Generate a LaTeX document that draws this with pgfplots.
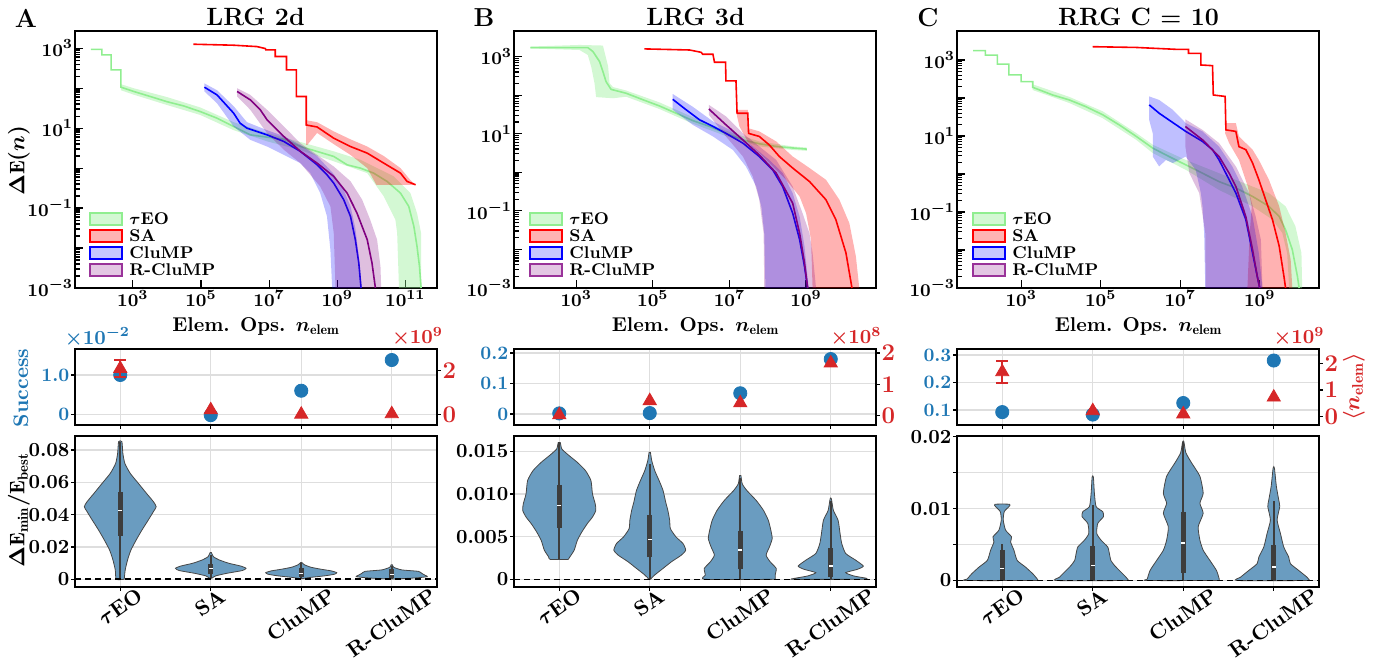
\documentclass[border=0pt]{standalone}
\usepackage{fontspec}
\usepackage{pgfplots}
\pgfplotsset{compat=1.18}
\newcommand{\fs}[1]{\fontsize{#1}{#1}\selectfont}
\definecolor{tabblue}{RGB}{31,119,180}
\definecolor{tabred}{RGB}{214,39,40}
\definecolor{lgreen}{RGB}{144,238,144}
\definecolor{mpurple}{RGB}{128,0,128}
\definecolor{vblue}{RGB}{106,156,192}
\definecolor{vedge}{RGB}{70,70,70}
\definecolor{boxc}{RGB}{61,61,61}
\definecolor{gridc}{RGB}{222,222,222}
\pgfplotsset{every axis/.append style={scale only axis, anchor=north west, axis line style={line width=0.8pt, black}, tick style={black, line width=0.6pt}, tick label style={font=\fs{9.5}\bfseries\boldmath, inner sep=0.8pt}, scaled y ticks=false}}
\newcommand{\vbx}[6]{%
\addplot[boxc, line width=0.9pt, forget plot] coordinates {(#1,#2) (#1,#3)};
\addplot[boxc, line width=2.6pt, forget plot] coordinates {(#1,#4) (#1,#5)};
\addplot[only marks, mark=-, mark size=1.1pt, white, mark options={line width=0.7pt}, forget plot] coordinates {(#1,#6)};
}
\newcommand{\zeroline}{\addplot[black, line width=0.8pt, dash pattern=on 3pt off 2pt, forget plot] coordinates {(-0.5,0) (3.5,0)};}
\begin{document}
\begin{tikzpicture}
\useasboundingbox (0,0) rectangle (692.5pt,-331pt);
% ================= TOP A =================
\begin{axis}[at={(37.5pt,-15.5pt)}, width=181pt, height=128.5pt, xmode=log, ymode=log, xmin=2.0e1, xmax=8.5e11, ymin=1e-3, ymax=2.7e3, tick align=inside, tick pos=left, xtick={1e3,1e5,1e7,1e9,1e11}, ytick={1e-3,1e-2,1e-1,1,1e1,1e2,1e3}, yticklabels={$10^{-3}$,,$10^{-1}$,,$10^{1}$,,$10^{3}$}, major tick length=4pt, minor tick length=2.5pt]
\addplot[draw=none, fill=lgreen, fill opacity=0.4] coordinates {(4.44e2,1.26e2) (1.05e3,1.0e2) (1e4,6.0e1) (9.5e4,3.3e1) (9.1e5,1.41e1) (8.7e6,7.6) (8.3e7,4.5) (7.9e8,2.63) (4.8e9,1.62) (4.6e10,0.62) (1.41e11,0.237) (2.2e11,0.075) (2.9e11,0.0237) (2.9e11,0.001) (6.5e10,0.001) (5.75e10,0.0237) (5.1e10,0.051) (2.34e10,0.195) (7.6e9,0.75) (7.9e8,1.48) (8.3e7,2.82) (8.7e6,4.68) (9.1e5,8.9) (9.5e4,2.14e1) (1e4,3.8e1) (1.05e3,6.9e1) (4.44e2,8.9e1)};
\addplot[lgreen, line width=0.8pt] coordinates {(5.8e1,9.4e2) (1.23e2,9.4e2) (1.23e2,6.8e2) (2.31e2,6.8e2) (2.31e2,2.87e2) (4.44e2,2.87e2) (4.44e2,1.06e2) (1.05e3,8.3e1) (3.24e3,6.2e1) (1e4,4.6e1) (3.1e4,3.6e1) (9.5e4,2.6e1) (2.95e5,1.78e1) (9.1e5,1.1e1) (2.8e6,6.8) (8.7e6,5.96) (2.7e7,5.3) (8.3e7,3.48) (2.57e8,2.61) (7.9e8,1.96) (1.95e9,1.21) (4.8e9,1.0) (1.17e10,0.75) (2.9e10,0.465) (7.2e10,0.237) (1.26e11,0.11) (1.78e11,0.0348) (2.2e11,0.011) (2.6e11,0.00348) (2.9e11,0.001)};
\addplot[draw=none, fill=red, fill opacity=0.3] coordinates {(1.23e8,1.58e1) (2.57e8,1.41e1) (7.9e8,8.3) (2.45e9,5.25) (7.6e9,3.47) (2.34e10,2.0) (7.2e10,1.0) (1.41e11,0.5) (2.0e11,0.38) (1.41e10,0.38) (7.6e9,1.0) (2.45e9,2.14) (7.9e8,3.98) (2.57e8,7.6) (1.32e8,3.8) (1.23e8,3.8)};
\addplot[red, line width=0.8pt] coordinates {(6.0e4,1.26e3) (9.1e5,1.19e3) (4.4e6,1.1e3) (7.8e6,9.8e2) (8.0e6,9.1e2) (1.51e7,9.1e2) (1.51e7,6.2e2) (3.24e7,6.2e2) (3.24e7,2.88e2) (6.3e7,2.88e2) (6.3e7,6.2e1) (1.23e8,6.2e1) (1.23e8,1.2e1) (2.57e8,1.07e1) (7.9e8,5.6) (2.45e9,3.47) (7.6e9,2.37) (2.34e10,1.33) (7.2e10,0.75) (1.12e11,0.465) (2.0e11,0.383)};
\addplot[draw=none, fill=blue, fill opacity=0.25] coordinates {(1.26e5,1.32e2) (2.95e5,8.9e1) (9.1e5,3.55e1) (2.24e6,1.41e1) (8.7e6,8.9) (2.7e7,6.3) (8.3e7,3.8) (2.57e8,2.0) (7.9e8,0.71) (1.55e9,0.28) (2.45e9,0.112) (3.4e9,0.0316) (4.3e9,0.0063) (5.25e9,0.001) (7.1e8,0.001) (6.3e8,0.0091) (5.0e8,0.062) (3.16e8,0.237) (1.62e8,0.75) (8.3e7,1.33) (2.7e7,2.15) (8.7e6,3.47) (2.8e6,5.1) (9.1e5,1.1e1) (2.95e5,4.2e1) (1.26e5,8.3e1)};
\addplot[blue, line width=0.8pt] coordinates {(1.26e5,1.06e2) (2.95e5,6.8e1) (9.1e5,2.37e1) (1.41e6,1.33e1) (2.24e6,1.0e1) (8.7e6,6.8) (2.7e7,4.65) (8.3e7,2.61) (2.57e8,1.21) (5.0e8,0.68) (7.9e8,0.42) (1.55e9,0.162) (2.45e9,0.062) (3.4e9,0.0162) (4.3e9,0.0042) (5.0e9,0.001)};
\addplot[draw=none, fill=mpurple, fill opacity=0.25] coordinates {(1.15e6,1.0e2) (2.8e6,6.8e1) (8.7e6,2.88e1) (2.7e7,1.1e1) (8.3e7,4.2) (2.57e8,2.14) (7.9e8,1.1) (2.45e9,0.47) (5.4e9,0.162) (9.3e9,0.051) (1.48e10,0.0162) (1.86e10,0.0035) (1.95e10,0.001) (8.9e8,0.001) (7.9e8,0.0237) (6.3e8,0.11) (3.16e8,0.347) (8.3e7,1.33) (2.7e7,2.88) (8.7e6,7.5) (2.8e6,2.88e1) (1.15e6,6.2e1)};
\addplot[mpurple, line width=0.8pt] coordinates {(1.15e6,8.3e1) (2.8e6,5.1e1) (5.5e6,2.88e1) (8.7e6,1.62e1) (2.7e7,6.2) (8.3e7,2.63) (2.57e8,1.33) (7.9e8,0.62) (1.95e9,0.237) (3.8e9,0.075) (7.6e9,0.0162) (1.05e10,0.0042) (1.32e10,0.001)};
\end{axis}
% ================= TOP B =================
\begin{axis}[at={(257pt,-15.5pt)}, width=181pt, height=128.5pt, xmode=log, ymode=log, xmin=2.37e1, xmax=6.7e10, ymin=1e-3, ymax=4.6e3, tick align=inside, tick pos=left, xtick={1e3,1e5,1e7,1e9}, ytick={1e-3,1e-2,1e-1,1,1e1,1e2,1e3}, yticklabels={$10^{-3}$,,$10^{-1}$,,$10^{1}$,,$10^{3}$}, major tick length=4pt, minor tick length=2.5pt]
\addplot[draw=none, fill=lgreen, fill opacity=0.4] coordinates {(6.3e1,1.82e3) (1.22e3,2.0e3) (4.97e3,1.93e3) (6.8e3,5.5e2) (7.4e3,2.04e2) (9.1e3,1.62e2) (2.0e4,1.32e2) (1.48e5,6.5e1) (1.1e6,2.69e1) (8.1e6,1.2e1) (6.0e7,6.3) (4.47e8,4.68) (1.05e9,4.37) (1.05e9,3.6) (4.47e8,3.8) (6.0e7,4.68) (8.1e6,8.7) (1.1e6,1.82e1) (1.48e5,4.37e1) (2.0e4,9.1e1) (9.1e3,8.3e1) (3.3e3,8.9e1) (3.0e3,2.04e2) (2.45e3,5.5e2) (2.0e3,1.1e3) (1.22e3,1.48e3) (6.3e1,1.62e3)};
\addplot[lgreen, line width=0.8pt] coordinates {(6.3e1,1.71e3) (2.0e3,1.71e3) (2.72e3,1.35e3) (4.07e3,7.4e2) (4.97e3,4.07e2) (6.0e3,2.24e2) (8.1e3,1.41e2) (2.0e4,1.12e2) (5.5e4,7.6e1) (1.48e5,5.25e1) (4.07e5,3.39e1) (1.1e6,2.19e1) (3.0e6,1.55e1) (8.1e6,1.02e1) (2.24e7,6.9) (6.0e7,5.5) (1.66e8,4.68) (4.47e8,4.27) (1.05e9,3.98)};
\addplot[draw=none, fill=red, fill opacity=0.3] coordinates {(1.58e7,4.17e1) (3.0e7,4.17e1) (3.16e7,1.38e1) (6.0e7,1.15e1) (1.66e8,6.3) (4.47e8,2.57) (1.23e9,1.29) (3.3e9,0.64) (7.4e9,0.195) (1.35e10,0.048) (2.0e10,0.0066) (2.45e10,0.001) (1.48e9,0.001) (1.35e9,0.0178) (1.0e9,0.087) (6.8e8,0.234) (3.0e8,0.64) (1.1e8,1.74) (6.0e7,3.16) (3.16e7,5.7) (1.82e7,1.55e1) (1.58e7,2.82e1)};
\addplot[red, line width=0.8pt] coordinates {(6.0e4,1.58e3) (9.1e5,1.48e3) (1.82e6,1.29e3) (2.0e6,1.15e3) (3.7e6,1.15e3) (4.07e6,7.1e2) (7.9e6,7.1e2) (8.1e6,2.34e2) (1.48e7,2.34e2) (1.58e7,3.39e1) (3.0e7,3.39e1) (3.16e7,1.02e1) (6.0e7,8.5) (1.1e8,5.1) (2.0e8,2.57) (4.47e8,1.29) (1.23e9,0.575) (3.3e9,0.195) (6.0e9,0.059) (1.1e10,0.0081) (1.58e10,0.001)};
\addplot[draw=none, fill=blue, fill opacity=0.25] coordinates {(3.3e5,1.07e2) (1.1e6,5.0e1) (3.7e6,2.09e1) (1.23e7,1.15e1) (4.07e7,4.68) (1.1e8,2.09) (2.45e8,0.955) (4.47e8,0.288) (6.8e8,0.071) (9.1e8,0.012) (1.17e9,0.001) (8.7e7,0.001) (8.1e7,0.026) (6.8e7,0.129) (5.0e7,0.427) (2.7e7,1.41) (1.23e7,3.8) (3.7e6,8.5) (1.1e6,1.7e1) (3.3e5,4.17e1)};
\addplot[blue, line width=0.8pt] coordinates {(3.3e5,7.8e1) (7.4e5,4.17e1) (1.66e6,2.29e1) (3.7e6,1.55e1) (8.1e6,1.02e1) (2.24e7,5.7) (6.0e7,2.57) (1.35e8,1.15) (2.45e8,0.427) (4.47e8,0.087) (6.8e8,0.0178) (9.1e8,0.0036) (1.1e9,0.001)};
\addplot[draw=none, fill=mpurple, fill opacity=0.25] coordinates {(2.9e6,5.6e1) (8.1e6,2.82e1) (2.24e7,1.02e1) (6.0e7,4.68) (1.66e8,2.09) (4.47e8,0.427) (8.1e8,0.087) (1.23e9,0.026) (1.48e9,0.0081) (1.82e9,0.001) (8.1e7,0.001) (7.8e7,0.026) (6.0e7,0.195) (4.07e7,0.78) (2.24e7,2.57) (8.1e6,8.5) (2.9e6,3.09e1)};
\addplot[mpurple, line width=0.8pt] coordinates {(2.9e6,4.37e1) (8.1e6,1.7e1) (2.24e7,6.9) (6.0e7,2.82) (1.66e8,0.955) (4.47e8,0.158) (6.8e8,0.026) (9.1e8,0.0045) (1.1e9,0.001)};
\end{axis}
% ================= TOP C =================
\begin{axis}[at={(478.5pt,-15.5pt)}, width=181pt, height=128.5pt, xmode=log, ymode=log, xmin=2.43e1, xmax=3.1e10, ymin=1e-3, ymax=5.8e3, tick align=inside, tick pos=left, xtick={1e3,1e5,1e7,1e9}, ytick={1e-3,1e-2,1e-1,1,1e1,1e2,1e3}, yticklabels={$10^{-3}$,,$10^{-1}$,,$10^{1}$,,$10^{3}$}, major tick length=4pt, minor tick length=2.5pt]
\addplot[draw=none, fill=lgreen, fill opacity=0.4] coordinates {(1.95e3,2.29e2) (1.62e4,1.07e2) (1.12e5,4.47e1) (7.8e5,1.2e1) (2.04e6,5.9) (1.38e7,2.34) (9.5e7,1.05) (6.6e8,0.468) (1.7e9,0.316) (4.47e9,0.141) (7.9e9,0.042) (1.12e10,0.0083) (1.17e10,0.001) (5.5e9,0.001) (4.9e9,0.0083) (3.7e9,0.028) (2.09e9,0.063) (6.6e8,0.141) (9.5e7,0.38) (1.38e7,1.29) (2.04e6,3.55) (7.8e5,7.94) (1.12e5,2.95e1) (1.62e4,7.4e1) (1.95e3,1.62e2)};
\addplot[lgreen, line width=0.8pt] coordinates {(6.2e1,1.76e3) (1.26e2,1.76e3) (1.26e2,1.35e3) (2.51e2,1.35e3) (2.51e2,7.8e2) (4.9e2,7.8e2) (4.9e2,4.07e2) (1e3,4.07e2) (1e3,2.69e2) (1.95e3,2.69e2) (1.95e3,1.91e2) (6.2e3,1.2e2) (1.62e4,8.9e1) (4.27e4,5.9e1) (1.12e5,3.63e1) (2.95e5,1.95e1) (7.8e5,9.8) (2.04e6,4.79) (5.25e6,2.88) (1.38e7,1.74) (3.63e7,1.05) (9.5e7,0.63) (2.51e8,0.427) (6.6e8,0.257) (1.7e9,0.141) (3.09e9,0.076) (4.47e9,0.034) (6.6e9,0.0102) (8.9e9,0.002) (9.8e9,0.001)};
\addplot[draw=none, fill=red, fill opacity=0.3] coordinates {(1.41e8,2.19e1) (2.51e8,2.19e1) (3.0e8,9.8) (6.6e8,4.37) (9.5e8,2.34) (1.7e9,0.71) (3.09e9,0.141) (4.47e9,0.028) (6.0e9,0.0056) (6.6e9,0.001) (4.9e8,0.001) (5.6e8,0.028) (6.3e8,0.141) (5.0e8,0.468) (3.0e8,2.34) (1.7e8,6.5) (1.35e8,1.17e1)};
\addplot[red, line width=0.8pt] coordinates {(6.3e4,2.24e3) (7.8e5,2.14e3) (7.8e6,1.91e3) (1.62e7,1.91e3) (1.62e7,1.5e3) (3.3e7,1.5e3) (3.3e7,7.4e2) (6.5e7,7.1e2) (6.8e7,1.2e2) (1.35e8,1.1e2) (1.41e8,1.45e1) (2.51e8,1.32e1) (3.0e8,5.25) (4.47e8,4.37) (6.6e8,1.95) (9.5e8,0.71) (1.41e9,0.209) (2.09e9,0.063) (3.09e9,0.0126) (4.07e9,0.002) (4.47e9,0.001)};
\addplot[draw=none, fill=blue, fill opacity=0.25] coordinates {(1.66e6,1.1e2) (2.95e6,8.9e1) (6.5e6,4.9e1) (1.38e7,2.19e1) (3.63e7,1.32e1) (9.5e7,5.25) (2.04e8,1.58) (3.63e8,0.468) (6.6e8,0.076) (9.5e8,0.0083) (1.17e9,0.001) (4.27e7,0.001) (4.0e7,0.028) (3.63e7,0.141) (3.3e7,0.316) (2.45e7,1.29) (1.38e7,2.88) (9.3e6,2.34) (6.5e6,1.95) (4.37e6,2.34) (2.95e6,1.58) (2.04e6,2.88) (2.04e6,1.17e1) (1.66e6,2.63e1)};
\addplot[blue, line width=0.8pt] coordinates {(1.66e6,6.6e1) (2.95e6,3.98e1) (5.25e6,2.63e1) (1.38e7,1.32e1) (3.63e7,7.2) (6.5e7,4.37) (9.5e7,2.34) (1.7e8,0.71) (2.51e8,0.316) (4.47e8,0.063) (6.6e8,0.0083) (8.7e8,0.002) (1.0e9,0.001)};
\addplot[draw=none, fill=mpurple, fill opacity=0.25] coordinates {(1.35e7,2.75e1) (3.63e7,1.45e1) (9.5e7,6.5) (2.51e8,1.58) (5.4e8,0.316) (7.9e8,0.076) (1.07e9,0.0186) (1.17e9,0.001) (4.37e7,0.001) (4.27e7,0.028) (3.0e7,0.316) (1.7e7,1.05) (1.35e7,5.25)};
\addplot[mpurple, line width=0.8pt] coordinates {(1.35e7,1.78e1) (3.63e7,7.94) (9.5e7,2.88) (1.7e8,1.05) (2.51e8,0.468) (4.47e8,0.076) (6.6e8,0.0102) (8.7e8,0.002) (1.0e9,0.001)};
\end{axis}
% ================= MIDDLE =================
\begin{axis}[at={(37.5pt,-174.5pt)}, width=181pt, height=38pt, xmin=-0.5, xmax=3.5, xtick={0,1,2,3}, xticklabels={}, tick align=outside, major tick length=1.8pt, ytick pos=left, xtick pos=left, grid=major, grid style={gridc, line width=0.6pt}, yticklabel style={text=tabblue}, ymin=-0.27, ymax=1.66, ytick={0,1}, yticklabels={0,1.0}]
\addplot[only marks, mark=*, mark size=3.3pt, tabblue] coordinates {(0,1.0) (1,-0.02) (2,0.6) (3,1.38)};
\end{axis}
\begin{axis}[at={(37.5pt,-174.5pt)}, width=181pt, height=38pt, xmin=-0.5, xmax=3.5, axis y line*=right, axis x line=none, tick align=outside, major tick length=1.8pt, yticklabel style={text=tabred, font=\fs{12.5}\bfseries\boldmath}, ymin=-0.49, ymax=3.0, ytick={0,2}]
\addplot[only marks, mark=triangle*, mark size=3.8pt, tabred, error bars/.cd, y dir=both, y explicit, error bar style={tabred, line width=0.9pt}, error mark options={tabred, rotate=90, mark size=3pt, line width=0.9pt}] coordinates {(0,2.1) +- (0,0.4)};
\addplot[only marks, mark=triangle*, mark size=3.8pt, tabred] coordinates {(1,0.2) (2,0.0) (3,0.02)};
\end{axis}
\begin{axis}[at={(257pt,-174.5pt)}, width=181pt, height=38pt, xmin=-0.5, xmax=3.5, xtick={0,1,2,3}, xticklabels={}, tick align=outside, major tick length=1.8pt, ytick pos=left, xtick pos=left, grid=major, grid style={gridc, line width=0.6pt}, yticklabel style={text=tabblue}, ymin=-0.036, ymax=0.213, ytick={0,0.1,0.2}, yticklabels={0,0.1,0.2}]
\addplot[only marks, mark=*, mark size=3.3pt, tabblue] coordinates {(0,0.002) (1,0.003) (2,0.068) (3,0.18)};
\end{axis}
\begin{axis}[at={(257pt,-174.5pt)}, width=181pt, height=38pt, xmin=-0.5, xmax=3.5, axis y line*=right, axis x line=none, tick align=outside, major tick length=1.8pt, yticklabel style={text=tabred, font=\fs{12.5}\bfseries\boldmath}, ymin=-0.29, ymax=2.13, ytick={0,1,2}]
\addplot[only marks, mark=triangle*, mark size=3.8pt, tabred] coordinates {(0,0.03) (1,0.48) (2,0.41) (3,1.68)};
\end{axis}
\begin{axis}[at={(478.5pt,-174.5pt)}, width=181pt, height=38pt, xmin=-0.5, xmax=3.5, xtick={0,1,2,3}, xticklabels={}, tick align=outside, major tick length=1.8pt, ytick pos=left, xtick pos=left, grid=major, grid style={gridc, line width=0.6pt}, yticklabel style={text=tabblue}, ymin=0.045, ymax=0.322, ytick={0.1,0.2,0.3}, yticklabels={0.1,0.2,0.3}]
\addplot[only marks, mark=*, mark size=3.3pt, tabblue] coordinates {(0,0.092) (1,0.083) (2,0.125) (3,0.28)};
\end{axis}
\begin{axis}[at={(478.5pt,-174.5pt)}, width=181pt, height=38pt, xmin=-0.5, xmax=3.5, axis y line*=right, axis x line=none, tick align=outside, major tick length=1.8pt, yticklabel style={text=tabred, font=\fs{12.5}\bfseries\boldmath}, ymin=-0.31, ymax=2.54, ytick={0,1,2}]
\addplot[only marks, mark=triangle*, mark size=3.8pt, tabred, error bars/.cd, y dir=both, y explicit, error bar style={tabred, line width=0.9pt}, error mark options={tabred, rotate=90, mark size=3pt, line width=0.9pt}] coordinates {(0,1.68) +- (0,0.41)};
\addplot[only marks, mark=triangle*, mark size=3.8pt, tabred] coordinates {(1,0.22) (2,0.1) (3,0.73)};
\end{axis}
% ================= VIOLINS A =================
\begin{axis}[at={(37.5pt,-218pt)}, width=181pt, height=75.5pt, xmin=-0.5, xmax=3.5, xtick={0,1,2,3}, xticklabels={}, tick align=outside, tick pos=left, major tick length=1.8pt, grid=major, grid style={gridc, line width=0.6pt}, yticklabel style={font=\fs{10}\bfseries}, ymin=-0.0048, ymax=0.0887, ytick={0,0.02,0.04,0.06,0.08}, yticklabels={0,0.02,0.04,0.06,0.08}]
\addplot[fill=vblue, draw=vedge, line width=0.4pt, smooth, tension=0.35] coordinates {(0.044,0) (0.055,0.0058) (0.081,0.012) (0.118,0.0181) (0.176,0.0243) (0.24,0.0305) (0.31,0.0367) (0.367,0.0419) (0.397,0.0449) (0.367,0.048) (0.29,0.0532) (0.2,0.0594) (0.11,0.0656) (0.051,0.0717) (0.029,0.0779) (0.018,0.0852) (-0.018,0.0852) (-0.029,0.0779) (-0.051,0.0717) (-0.11,0.0656) (-0.2,0.0594) (-0.29,0.0532) (-0.367,0.048) (-0.397,0.0449) (-0.367,0.0419) (-0.31,0.0367) (-0.24,0.0305) (-0.176,0.0243) (-0.118,0.0181) (-0.081,0.012) (-0.055,0.0058) (-0.044,0) (0.044,0)};
\vbx{0}{0}{0.085}{0.0268}{0.0538}{0.0425}
\addplot[fill=vblue, draw=vedge, line width=0.4pt, smooth, tension=0.35] coordinates {(1.011,0.0006) (1.055,0.0021) (1.18,0.0037) (1.35,0.0054) (1.39,0.0068) (1.33,0.0082) (1.2,0.0099) (1.092,0.012) (1.029,0.014) (1.007,0.0165) (0.993,0.0165) (0.971,0.014) (0.908,0.012) (0.8,0.0099) (0.67,0.0082) (0.61,0.0068) (0.65,0.0054) (0.82,0.0037) (0.945,0.0021) (0.989,0.0006) (1.011,0.0006)};
\vbx{1}{0.0006}{0.015}{0.0033}{0.0095}{0.0068}
\addplot[fill=vblue, draw=vedge, line width=0.4pt, smooth, tension=0.35] coordinates {(2.011,0.0004) (2.11,0.0012) (2.257,0.0021) (2.367,0.0031) (2.393,0.0041) (2.33,0.0052) (2.22,0.0062) (2.11,0.0074) (2.037,0.0089) (2.007,0.0103) (1.993,0.0103) (1.963,0.0089) (1.89,0.0074) (1.78,0.0062) (1.67,0.0052) (1.607,0.0041) (1.633,0.0031) (1.743,0.0021) (1.89,0.0012) (1.989,0.0004) (2.011,0.0004)};
\vbx{2}{0.0004}{0.0098}{0.0016}{0.0068}{0.0037}
\addplot[fill=vblue, draw=vedge, line width=0.4pt, smooth, tension=0.35] coordinates {(3.037,0.0002) (3.257,0.0008) (3.393,0.0016) (3.367,0.0025) (3.33,0.0037) (3.294,0.0049) (3.11,0.0058) (3.022,0.0074) (3.007,0.0089) (2.993,0.0089) (2.978,0.0074) (2.89,0.0058) (2.706,0.0049) (2.67,0.0037) (2.633,0.0025) (2.607,0.0016) (2.743,0.0008) (2.963,0.0002) (3.037,0.0002)};
\vbx{3}{0.0002}{0.0085}{0.0006}{0.0062}{0.0031}
\zeroline
\end{axis}
% ================= VIOLINS B =================
\begin{axis}[at={(257pt,-218pt)}, width=181pt, height=75.5pt, xmin=-0.5, xmax=3.5, xtick={0,1,2,3}, xticklabels={}, tick align=outside, tick pos=left, major tick length=1.8pt, grid=major, grid style={gridc, line width=0.6pt}, yticklabel style={font=\fs{10}\bfseries}, ymin=-0.0009, ymax=0.0168, ytick={0,0.005,0.01,0.015}, yticklabels={0,0.005,0.010,0.015}]
\addplot[fill=vblue, draw=vedge, line width=0.4pt, smooth, tension=0.35] coordinates {(0.099,0.00233) (0.118,0.00264) (0.165,0.00342) (0.2,0.00458) (0.25,0.00556) (0.31,0.00653) (0.367,0.0073) (0.404,0.00808) (0.397,0.00886) (0.367,0.01002) (0.35,0.01158) (0.29,0.01274) (0.2,0.01371) (0.11,0.01449) (0.029,0.01527) (0.011,0.01604) (-0.011,0.01604) (-0.029,0.01527) (-0.11,0.01449) (-0.2,0.01371) (-0.29,0.01274) (-0.35,0.01158) (-0.367,0.01002) (-0.397,0.00886) (-0.404,0.00808) (-0.367,0.0073) (-0.31,0.00653) (-0.25,0.00556) (-0.2,0.00458) (-0.165,0.00342) (-0.118,0.00264) (-0.099,0.00233) (0.099,0.00233)};
\vbx{0}{0.00233}{0.01604}{0.00606}{0.01111}{0.00866}
\addplot[fill=vblue, draw=vedge, line width=0.4pt, smooth, tension=0.35] coordinates {(1.007,0) (1.055,0.00051) (1.147,0.00128) (1.24,0.00206) (1.35,0.00284) (1.397,0.00342) (1.367,0.0042) (1.29,0.00497) (1.228,0.00594) (1.22,0.00692) (1.2,0.00808) (1.176,0.00905) (1.147,0.01041) (1.103,0.01158) (1.055,0.01274) (1.022,0.01391) (1.007,0.01488) (0.993,0.01488) (0.978,0.01391) (0.945,0.01274) (0.897,0.01158) (0.853,0.01041) (0.824,0.00905) (0.8,0.00808) (0.78,0.00692) (0.772,0.00594) (0.71,0.00497) (0.633,0.0042) (0.603,0.00342) (0.65,0.00284) (0.76,0.00206) (0.853,0.00128) (0.945,0.00051) (0.993,0) (1.007,0)};
\vbx{1}{0}{0.0135}{0.00256}{0.0075}{0.00466}
\addplot[fill=vblue, draw=vedge, line width=0.4pt, smooth, tension=0.35] coordinates {(2.386,0) (2.386,0.00051) (2.397,0.00128) (2.33,0.00206) (2.286,0.00284) (2.323,0.00381) (2.353,0.00478) (2.338,0.00575) (2.31,0.00692) (2.257,0.00808) (2.176,0.00925) (2.073,0.01041) (2.022,0.01119) (2.007,0.01216) (1.993,0.01216) (1.978,0.01119) (1.927,0.01041) (1.824,0.00925) (1.743,0.00808) (1.69,0.00692) (1.662,0.00575) (1.647,0.00478) (1.677,0.00381) (1.714,0.00284) (1.67,0.00206) (1.603,0.00128) (1.614,0.00051) (1.614,0) (2.386,0)};
\vbx{2}{0}{0.0119}{0.00117}{0.00563}{0.00342}
\addplot[fill=vblue, draw=vedge, line width=0.4pt, smooth, tension=0.35] coordinates {(3.404,0) (3.397,0.00012) (3.257,0.00039) (3.165,0.00078) (3.294,0.00117) (3.36,0.00155) (3.275,0.00225) (3.165,0.00303) (3.121,0.0042) (3.103,0.00536) (3.081,0.00692) (3.029,0.00808) (3.007,0.00944) (2.993,0.00944) (2.971,0.00808) (2.919,0.00692) (2.897,0.00536) (2.879,0.0042) (2.835,0.00303) (2.725,0.00225) (2.64,0.00155) (2.706,0.00117) (2.835,0.00078) (2.743,0.00039) (2.603,0.00012) (2.596,0) (3.404,0)};
\vbx{3}{0}{0.0092}{0.00031}{0.00369}{0.00155}
\zeroline
\end{axis}
% ================= VIOLINS C =================
\begin{axis}[at={(478.5pt,-218pt)}, width=181pt, height=75.5pt, xmin=-0.5, xmax=3.5, xtick={0,1,2,3}, xticklabels={}, tick align=outside, tick pos=left, major tick length=1.8pt, grid=major, grid style={gridc, line width=0.6pt}, yticklabel style={font=\fs{10}\bfseries}, ymin=-0.0009, ymax=0.0201, ytick={0,0.005,0.01,0.015,0.02}, yticklabels={0,,0.01,,0.02}]
\addplot[fill=vblue, draw=vedge, line width=0.4pt, smooth, tension=0.35] coordinates {(0.397,0) (0.386,0.00023) (0.338,0.00093) (0.257,0.00187) (0.165,0.0028) (0.129,0.00421) (0.092,0.00537) (0.103,0.00607) (0.037,0.00701) (0.011,0.00841) (0.022,0.00958) (0.074,0.01028) (0.081,0.01061) (-0.081,0.01061) (-0.074,0.01028) (-0.022,0.00958) (-0.011,0.00841) (-0.037,0.00701) (-0.103,0.00607) (-0.092,0.00537) (-0.129,0.00421) (-0.165,0.0028) (-0.257,0.00187) (-0.338,0.00093) (-0.386,0.00023) (-0.397,0) (0.397,0)};
\vbx{0}{0}{0.00514}{0}{0.00421}{0.00164}
\addplot[fill=vblue, draw=vedge, line width=0.4pt, smooth, tension=0.35] coordinates {(1.397,0) (1.367,0.00047) (1.294,0.0014) (1.24,0.0021) (1.2,0.0028) (1.184,0.00374) (1.165,0.00467) (1.092,0.00561) (1.044,0.00654) (1.055,0.00794) (1.118,0.00888) (1.11,0.00958) (1.037,0.01028) (1.018,0.01215) (1.007,0.01439) (0.993,0.01439) (0.982,0.01215) (0.963,0.01028) (0.89,0.00958) (0.882,0.00888) (0.945,0.00794) (0.956,0.00654) (0.908,0.00561) (0.835,0.00467) (0.816,0.00374) (0.8,0.0028) (0.76,0.0021) (0.706,0.0014) (0.633,0.00047) (0.603,0) (1.397,0)};
\vbx{1}{0}{0.0105}{0}{0.00486}{0.0021}
\addplot[fill=vblue, draw=vedge, line width=0.4pt, smooth, tension=0.35] coordinates {(2.397,0) (2.397,0.00023) (2.367,0.0014) (2.294,0.0028) (2.22,0.00421) (2.184,0.00561) (2.165,0.00748) (2.22,0.00935) (2.184,0.01075) (2.22,0.01215) (2.184,0.01449) (2.092,0.01636) (2.029,0.01776) (2.007,0.0193) (1.993,0.0193) (1.971,0.01776) (1.908,0.01636) (1.816,0.01449) (1.78,0.01215) (1.816,0.01075) (1.78,0.00935) (1.835,0.00748) (1.816,0.00561) (1.78,0.00421) (1.706,0.0028) (1.633,0.0014) (1.603,0.00023) (1.603,0) (2.397,0)};
\vbx{2}{0}{0.0193}{0.00103}{0.00958}{0.00523}
\addplot[fill=vblue, draw=vedge, line width=0.4pt, smooth, tension=0.35] coordinates {(3.397,0) (3.367,0.00047) (3.276,0.0014) (3.184,0.00234) (3.165,0.00327) (3.11,0.00467) (3.074,0.00654) (3.037,0.00841) (3.066,0.01028) (3.055,0.01121) (3.029,0.01308) (3.007,0.01565) (2.993,0.01565) (2.971,0.01308) (2.945,0.01121) (2.934,0.01028) (2.963,0.00841) (2.926,0.00654) (2.89,0.00467) (2.835,0.00327) (2.816,0.00234) (2.724,0.0014) (2.633,0.00047) (2.603,0) (3.397,0)};
\vbx{3}{0}{0.011}{0}{0.00491}{0.00187}
\zeroline
\end{axis}
% ================= LEGENDS =================
\foreach \xo/\po in {37.5/7.5, 257/8, 478.5/8}{
 \draw[fill=lgreen!40!white, draw=lgreen, line width=1.1pt] (\xo pt+\po pt,-106.5pt) rectangle ++(16pt,-6pt);
 \draw[fill=red!30!white, draw=red, line width=1.1pt] (\xo pt+\po pt,-115pt) rectangle ++(16pt,-6pt);
 \draw[fill=blue!22!white, draw=blue, line width=1.1pt] (\xo pt+\po pt,-123.5pt) rectangle ++(16pt,-6pt);
 \draw[fill=mpurple!22!white, draw=mpurple!80!white, line width=1.1pt] (\xo pt+\po pt,-132pt) rectangle ++(16pt,-6pt);
 \node[anchor=west, font=\fs{8.5}\bfseries\boldmath, inner sep=0pt] at (\xo pt+\po pt+19.5pt,-109.5pt) {$\tau$EO};
 \node[anchor=west, font=\fs{8.5}\bfseries, inner sep=0pt] at (\xo pt+\po pt+19.5pt,-118pt) {SA};
 \node[anchor=west, font=\fs{8.5}\bfseries, inner sep=0pt] at (\xo pt+\po pt+19.5pt,-126.5pt) {CluMP};
 \node[anchor=west, font=\fs{8.5}\bfseries, inner sep=0pt] at (\xo pt+\po pt+19.5pt,-135pt) {R-CluMP};
}
% ================= TEXT =================
\node[font=\fs{13}\bfseries] at (13pt,-9pt) {A};
\node[font=\fs{13}\bfseries] at (242pt,-9pt) {B};
\node[font=\fs{13}\bfseries] at (464pt,-9pt) {C};
\node[font=\fs{12.5}\bfseries\boldmath] at (127.75pt,-8.5pt) {LRG 2d};
\node[font=\fs{12.5}\bfseries\boldmath] at (347.75pt,-8.5pt) {LRG 3d};
\node[font=\fs{12.5}\bfseries\boldmath] at (569.25pt,-8.5pt) {RRG C $=$ 10};
\foreach \xc in {128,347.75,569.25}{
 \node[font=\fs{10}\bfseries\boldmath] at (\xc pt,-163pt) {Elem. Ops. $n_{\mathrm{elem}}$};
}
\node[font=\fs{10.5}\bfseries\boldmath, rotate=90] at (9.5pt,-80.5pt) {$\Delta\mathrm{E}(n)$};
\node[font=\fs{10.5}\bfseries, rotate=90, text=tabblue] at (10.5pt,-194pt) {Success};
\node[font=\fs{10.5}\bfseries\boldmath, rotate=90] at (9.5pt,-255pt) {$\Delta\mathrm{E}_{\mathrm{min}}/\mathrm{E}_{\mathrm{best}}$};
\node[font=\fs{11}\bfseries\boldmath, rotate=90, text=tabred] at (677pt,-193.5pt) {$\langle n_{\mathrm{elem}}\rangle$};
\node[font=\fs{10}\bfseries\boldmath, text=tabblue] at (48.75pt,-168.5pt) {$\times10^{-2}$};
\node[font=\fs{10}\bfseries\boldmath, text=tabred] at (208.75pt,-168.5pt) {$\times10^{9}$};
\node[font=\fs{10}\bfseries\boldmath, text=tabred] at (428pt,-168.5pt) {$\times10^{8}$};
\node[font=\fs{10}\bfseries\boldmath, text=tabred] at (649.5pt,-168.5pt) {$\times10^{9}$};
\foreach \xo in {37.5,257,478.5}{
 \node[font=\fs{10.5}\bfseries\boldmath, rotate=35] at (\xo pt+22.6pt,-303.5pt) {$\tau$EO};
 \node[font=\fs{10.5}\bfseries, rotate=35] at (\xo pt+67.9pt,-301.5pt) {SA};
 \node[font=\fs{10.5}\bfseries, rotate=35] at (\xo pt+113.1pt,-307.5pt) {CluMP};
 \node[font=\fs{10.5}\bfseries, rotate=35] at (\xo pt+158.4pt,-311.5pt) {R-CluMP};
}
\end{tikzpicture}
\end{document}
